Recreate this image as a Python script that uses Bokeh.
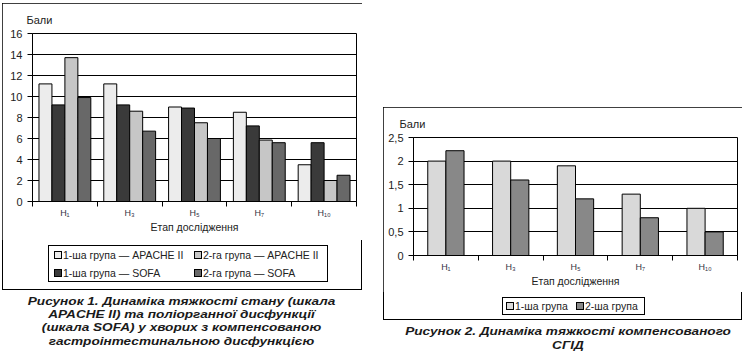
from bokeh.plotting import figure
from bokeh.models import (FactorRange, Range1d, LinearAxis, CategoricalAxis,
                          FixedTicker, Title, Div, CustomJSTickFormatter, ColumnDataSource)
from bokeh.transform import dodge
from bokeh.layouts import row, column
from bokeh.embed import file_html
from bokeh.resources import INLINE

# ---------------- data ----------------
stages = ["H₁", "H₃", "H₅", "H₇", "H₁₀"]

# Figure 1: APACHE II / SOFA
apache_g1 = [11.2, 11.2, 9.0, 8.5, 3.5]
sofa_g1 = [9.2, 9.2, 8.9, 7.2, 5.6]
apache_g2 = [13.7, 8.6, 7.5, 5.85, 2.0]
sofa_g2 = [9.9, 6.7, 6.0, 5.6, 2.5]
y1_ticks = [0, 2, 4, 6, 8, 10, 12, 14, 16]
labels1 = ["1-ша група — APACHE II", "1-ша група — SOFA",
           "2-га група — APACHE II", "2-га група — SOFA"]
colors1 = ["#ececec", "#3a3a3a", "#c6c6c6", "#686868"]

# Figure 2: SGID
sgid_g1 = [2.0, 2.0, 1.9, 1.3, 1.0]
sgid_g2 = [2.22, 1.6, 1.2, 0.8, 0.5]
y2_ticks = [0, 0.5, 1, 1.5, 2, 2.5]
labels2 = ["1-ша група", "2-ша група"]
colors2 = ["#d9d9d9", "#888888"]

caption1 = ["Рисунок 1. Динаміка тяжкості стану (шкала",
            "APACHE II) та поліорганної дисфункції",
            "(шкала SOFA) у хворих з компенсованою",
            "гастроінтестинальною дисфункцією"]
caption2 = ["Рисунок 2. Динаміка тяжкості компенсованого", "СГІД"]

FONT = "Liberation Sans"
TXT = "#222222"


def base_fig(y_end, y_ticks, fw, fh, ml, mr, mt, mb, title_offset, title_standoff, fmt=None):
    p = figure(x_range=FactorRange(factors=stages), y_range=Range1d(0, y_end),
               frame_width=fw, frame_height=fh,
               min_border_left=ml, min_border_right=mr,
               min_border_top=mt, min_border_bottom=mb,
               toolbar_location=None, output_backend="svg",
               x_axis_location=None,
               background_fill_color="white", border_fill_color="white",
               outline_line_color="black", outline_line_width=1)
    p.add_layout(Title(text="Бали", align="left", offset=title_offset, standoff=title_standoff,
                       text_font=FONT, text_font_size="11px", text_font_style="normal",
                       text_color=TXT), "above")
    # group-boundary ticks (synthetic coordinates of the factor range)
    tick_axis = LinearAxis(ticker=FixedTicker(ticks=list(range(len(stages) + 1))),
                           formatter=CustomJSTickFormatter(code="return ''"),
                           major_tick_out=5, major_tick_in=0,
                           minor_tick_out=0, minor_tick_in=0,
                           major_label_standoff=0,
                           axis_line_color="black", major_tick_line_color="black")
    p.add_layout(tick_axis, "below")
    cat_axis = CategoricalAxis(major_tick_line_color=None, axis_line_color=None,
                               major_tick_out=0, major_tick_in=0,
                               major_label_standoff=1,
                               major_label_text_font=FONT,
                               major_label_text_font_size="9px",
                               major_label_text_color="#333344",
                               axis_label="Етап дослідження",
                               axis_label_text_font=FONT,
                               axis_label_text_font_size="10.5px",
                               axis_label_text_font_style="normal",
                               axis_label_text_color=TXT,
                               axis_label_standoff=0)
    p.add_layout(cat_axis, "below")
    yax = p.yaxis[0]
    yax.ticker = FixedTicker(ticks=y_ticks)
    if fmt is not None:
        yax.formatter = fmt
    yax.major_tick_out = 5
    yax.major_tick_in = 0
    yax.minor_tick_line_color = None
    yax.axis_line_color = "black"
    yax.major_tick_line_color = "black"
    yax.major_label_text_font = FONT
    yax.major_label_text_font_size = "11px"
    yax.major_label_text_color = TXT
    p.ygrid.ticker = FixedTicker(ticks=y_ticks)
    p.ygrid.grid_line_color = "black"
    p.ygrid.grid_line_width = 1
    p.xgrid.visible = False
    return p


def legend_div(labels, colors, positions, box, w, h):
    # positions: (square_left, text_left, row_center) per item, in px inside the legend box
    bx, by, bw, bh = box
    parts = [f"<div style=\"position:relative;width:{w}px;height:{h}px;\">",
             f"<div style=\"position:absolute;left:{bx}px;top:{by}px;width:{bw}px;height:{bh}px;"
             f"border:1.3px solid #000;box-sizing:border-box;background:#fff;"
             f"font-family:'Liberation Sans',Arial,sans-serif;font-size:10.5px;color:{TXT};\">"]
    for lab, col, (sx, tx, cy) in zip(labels, colors, positions):
        parts.append(f"<span style=\"position:absolute;left:{sx}px;top:{cy - 4}px;width:8px;height:8px;"
                     f"border:1px solid #000;box-sizing:border-box;background:{col};\"></span>")
        parts.append(f"<span style=\"position:absolute;left:{tx}px;top:{cy - 7}px;line-height:14px;"
                     f"white-space:nowrap;\">{lab}</span>")
    parts.append("</div></div>")
    return Div(text="".join(parts), width=w, height=h, margin=0)


def caption_div(lines, w, h, cx, y0, dy):
    parts = [f"<div style=\"position:relative;width:{w}px;height:{h}px;"
             "font-family:'Liberation Sans',Arial,sans-serif;font-weight:bold;"
             "font-style:italic;font-size:13.6px;color:#1a1a1a;\">"]
    for i, line in enumerate(lines):
        cy = y0 + i * dy
        parts.append(f"<span style=\"position:absolute;left:{cx}px;top:{cy - 6.5:.1f}px;"
                     "display:inline-block;line-height:13px;white-space:nowrap;"
                     "transform:translateX(-50%) scaleY(0.84);\">"
                     f"{line}</span>")
    parts.append("</div>")
    return Div(text="".join(parts), width=w, height=h, margin=0)


BORDER = {"outline": "1.3px solid black", "outline-offset": "-1px"}

# ---------------- figure 1 ----------------
p1 = base_fig(16, y1_ticks, 324, 168, 30, 6, 30, 39, -6, 16)
src1 = ColumnDataSource(dict(stage=stages, a1=apache_g1, s1=sofa_g1, a2=apache_g2, s2=sofa_g2))
spec1 = [("a1", -0.3), ("s1", -0.1), ("a2", 0.1), ("s2", 0.3)]
for (key, off), color in zip(spec1, colors1):
    p1.vbar(x=dodge("stage", off, range=p1.x_range), top=key, width=0.2,
            source=src1, fill_color=color, line_color="black", line_width=1)
leg1 = legend_div(labels1, colors1,
                  [(5, 14, 8.5), (5, 14, 27), (145, 154, 8.5), (145, 154, 27)],
                  (46, 5, 280, 37), 360, 50)
inner1 = column(p1, leg1, styles=BORDER, margin=(3, 0, 0, 2), spacing=0)
cap1 = caption_div(caption1, 362, 60, 181.5, 11, 13.4)

# ---------------- figure 2 ----------------
fmt2 = CustomJSTickFormatter(code="return tick.toString().replace('.', ',')")
p2 = base_fig(2.5, y2_ticks, 324, 118, 30, 5, 30, 37, -14, 15, fmt=fmt2)
src2 = ColumnDataSource(dict(stage=stages, g1=sgid_g1, g2=sgid_g2))
spec2 = [("g1", -0.14), ("g2", 0.14)]
for (key, off), color in zip(spec2, colors2):
    p2.vbar(x=dodge("stage", off, range=p2.x_range), top=key, width=0.28,
            source=src2, fill_color=color, line_color="black", line_width=1)
leg2 = legend_div(labels2, colors2, [(3, 12, 8), (73, 82, 8)],
                  (119, 5, 143, 18), 359, 28)
inner2 = column(p2, leg2, styles=BORDER, margin=(107, 0, 0, 21), spacing=0)
cap2 = caption_div(caption2, 380, 36, 206, 11.7, 13.4)

layout = row(column(inner1, cap1, spacing=0), column(inner2, cap2, spacing=0), spacing=0)
open("out.html", "w").write(file_html(layout, INLINE))
